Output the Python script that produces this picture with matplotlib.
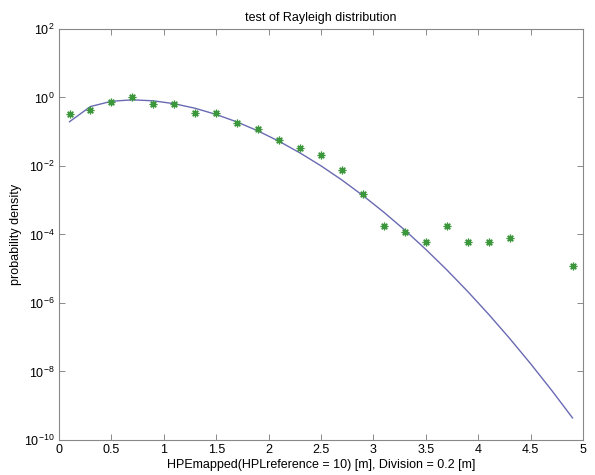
import numpy as np
import matplotlib.pyplot as plt

plt.rcParams['font.family'] = ['Liberation Sans', 'DejaVu Sans']
plt.rcParams['mathtext.fontset'] = 'custom'
plt.rcParams['mathtext.rm'] = 'Liberation Sans'

# bin centres (Division = 0.2 m)
x_bins = [0.1, 0.3, 0.5, 0.7, 0.9, 1.1, 1.3, 1.5, 1.7, 1.9, 2.1, 2.3, 2.5,
          2.7, 2.9, 3.1, 3.3, 3.5, 3.7, 3.9, 4.1, 4.3, 4.5, 4.7, 4.9]

# fitted Rayleigh curve
pdf_fit = [0.196, 0.544, 0.774, 0.854, 0.799, 0.657, 0.483, 0.319, 0.192,
           0.105, 0.0525, 0.024, 0.0101, 3.88e-3, 1.37e-3, 4.46e-4, 1.34e-4,
           3.67e-5, 9.3e-6, 2.17e-6, 4.67e-7, 9.25e-8, 1.69e-8, 2.85e-9, 4.42e-10]

# measured histogram (empty bins 4.5 and 4.7 left out)
x_meas = [0.1, 0.3, 0.5, 0.7, 0.9, 1.1, 1.3, 1.5, 1.7, 1.9, 2.1, 2.3, 2.5,
          2.7, 2.9, 3.1, 3.3, 3.5, 3.7, 3.9, 4.1, 4.3, 4.9]
pdf_meas = [0.34, 0.42, 0.74, 1.03, 0.66, 0.63, 0.36, 0.35, 0.18, 0.117,
            0.057, 0.034, 0.021, 7.8e-3, 1.55e-3, 1.78e-4, 1.17e-4, 5.9e-5,
            1.78e-4, 5.9e-5, 5.9e-5, 7.8e-5, 1.17e-5]

fig = plt.figure(figsize=(5.95, 4.75), dpi=100)
ax = fig.add_axes([0.0992, 0.0737, 0.8806, 0.8653])

ax.semilogy(x_bins, pdf_fit, color='#6a6ab4', linewidth=1.0)
# matlab style '*' : plus and cross overlaid
ax.semilogy(x_meas, pdf_meas, linestyle='none', marker=(8, 2, 0), color='#3c963c',
            markersize=5.5, markeredgewidth=0.9)

ax.set_xlim(0, 5)
ax.set_ylim(1e-10, 1e2)
ax.set_xticks([0, 0.5, 1, 1.5, 2, 2.5, 3, 3.5, 4, 4.5, 5])
ax.set_xticklabels(['0', '0.5', '1', '1.5', '2', '2.5', '3', '3.5', '4', '4.5', '5'])
ax.set_yticks([1e-10, 1e-8, 1e-6, 1e-4, 1e-2, 1e0, 1e2])
ax.set_yticklabels([r'$10^{-10}$', r'$10^{-8}$', r'$10^{-6}$', r'$10^{-4}$',
                    r'$10^{-2}$', r'$10^{0}$', r'$10^{2}$'])
ax.minorticks_off()
ax.tick_params(direction='in', top=True, right=True, length=4, width=0.6,
               color='#777777', labelsize=9, pad=3)
for s in ax.spines.values():
    s.set_color('#888888')
    s.set_linewidth(0.8)

ax.set_title('test of Rayleigh distribution', fontsize=9, pad=6)
ax.set_xlabel('HPEmapped(HPLreference = 10) [m], Division = 0.2 [m]', fontsize=9, labelpad=2)
ax.set_ylabel('probability density', fontsize=9, labelpad=2)

fig.savefig('out.png', dpi=100)
